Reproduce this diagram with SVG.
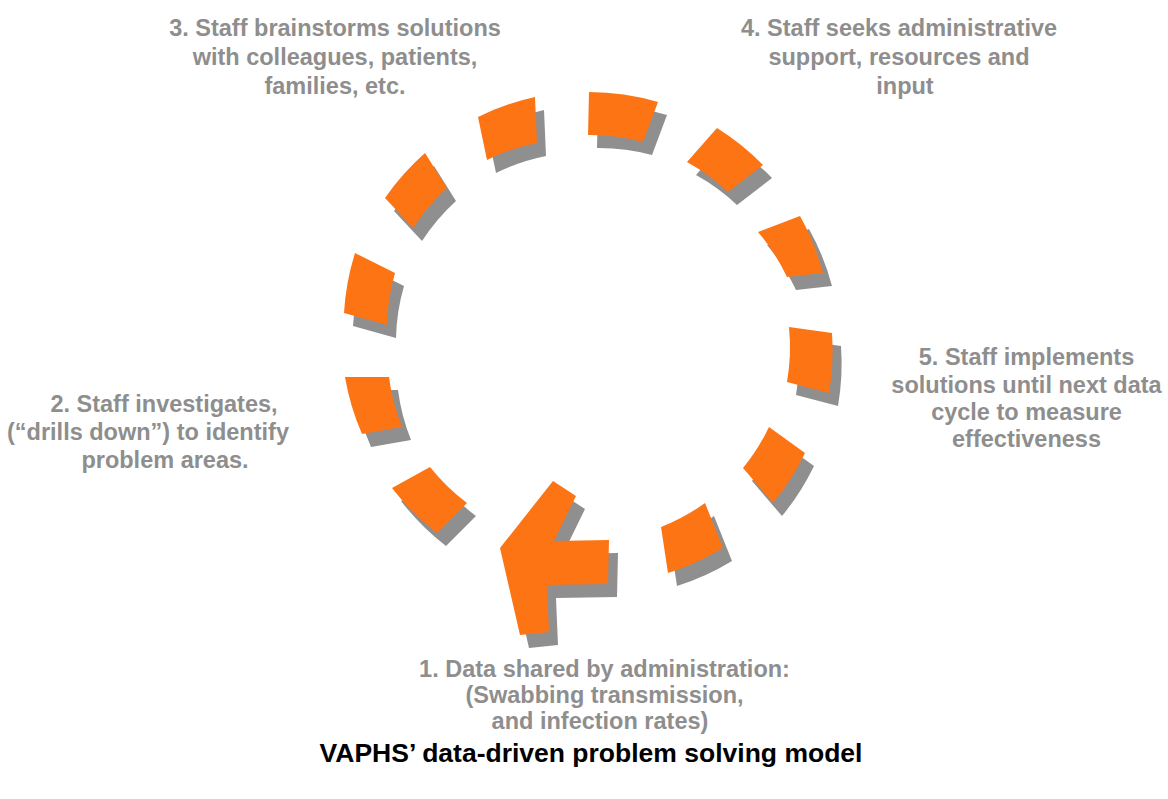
<svg xmlns="http://www.w3.org/2000/svg" xmlns:xlink="http://www.w3.org/1999/xlink" width="1168" height="799" viewBox="0 0 1168 799">
  <defs>
    <style>
      .lbl { font-family: "Liberation Sans", Arial, sans-serif; font-weight: bold; font-size: 23.5px; fill: #8e8e8e; text-anchor: middle; }
      .cap { font-family: "Liberation Sans", Arial, sans-serif; font-weight: bold; font-size: 26.5px; fill: #000000; text-anchor: middle; }
    </style>
    <g id="ring">
      <path d="M 478,117 A 248 248 0 0 1 535,97 L 537,143 A 204 204 0 0 0 487,160 Z"/>
      <path d="M 589,92 A 247 247 0 0 1 658,102 L 643,142 A 204 204 0 0 0 588,135 Z"/>
      <path d="M 687,162 L 717,128 A 247 247 0 0 1 763,165 L 728,192 A 203 203 0 0 0 687,162 Z"/>
      <path d="M 758,232 L 800,216 A 245 245 0 0 1 823,273 L 787,277 A 205 205 0 0 0 758,232 Z"/>
      <path d="M 789,327 L 832,333 A 245 245 0 0 1 829,393 L 787,382 A 202 202 0 0 0 789,327 Z"/>
      <path d="M 805,453 A 246 246 0 0 1 773,503 L 743,468 A 201 201 0 0 0 769,427 Z"/>
      <path d="M 723,548 A 248 248 0 0 1 668,573 L 661,527 A 201 201 0 0 0 705,503 Z"/>
      <polygon points="500,548 553,481 576,496 554,541 609,540 608,584 547,585 549,632 520,635"/>
      <path d="M 437,533 A 246 246 0 0 1 392,488 L 430,467 A 203 203 0 0 0 467,503 Z"/>
      <path d="M 362,434 A 245 245 0 0 1 345,377 L 389,377 A 204 204 0 0 0 402,427 Z"/>
      <path d="M 344,313 A 246 246 0 0 1 355,253 L 395,273 A 203 203 0 0 0 387,325 Z"/>
      <path d="M 385,198 A 247 247 0 0 1 425,153 L 447,188 A 207 207 0 0 0 413,228 Z"/>
    </g>
  </defs>
  <rect width="1168" height="799" fill="#ffffff"/>
  <g id="connectors">
    <use xlink:href="#ring" href="#ring" transform="translate(9,13)" fill="#8f8f8f"/>
    <use xlink:href="#ring" href="#ring" fill="#fd7415"/>
  </g>
  <g id="node1">
    <text class="lbl" x="604.5" y="677">1. Data shared by administration:</text>
    <text class="lbl" x="604.5" y="703">(Swabbing transmission,</text>
    <text class="lbl" x="600" y="729">and infection rates)</text>
  </g>
  <g id="node2">
    <text class="lbl" x="164" y="412">2. Staff investigates,</text>
    <text class="lbl" x="148" y="440">(“drills down”) to identify</text>
    <text class="lbl" x="165" y="468">problem areas.</text>
  </g>
  <g id="node3">
    <text class="lbl" x="335" y="36">3. Staff brainstorms solutions</text>
    <text class="lbl" x="335" y="65">with colleagues, patients,</text>
    <text class="lbl" x="335" y="94">families, etc.</text>
  </g>
  <g id="node4">
    <text class="lbl" x="899" y="36">4. Staff seeks administrative</text>
    <text class="lbl" x="899" y="65">support, resources and</text>
    <text class="lbl" x="905" y="94">input</text>
  </g>
  <g id="node5">
    <text class="lbl" x="1026.5" y="365">5. Staff implements</text>
    <text class="lbl" x="1026.5" y="392.5">solutions until next data</text>
    <text class="lbl" x="1026.5" y="420">cycle to measure</text>
    <text class="lbl" x="1026.5" y="447">effectiveness</text>
  </g>
  <g id="caption">
    <text class="cap" x="591" y="762">VAPHS’ data-driven problem solving model</text>
  </g>
</svg>
